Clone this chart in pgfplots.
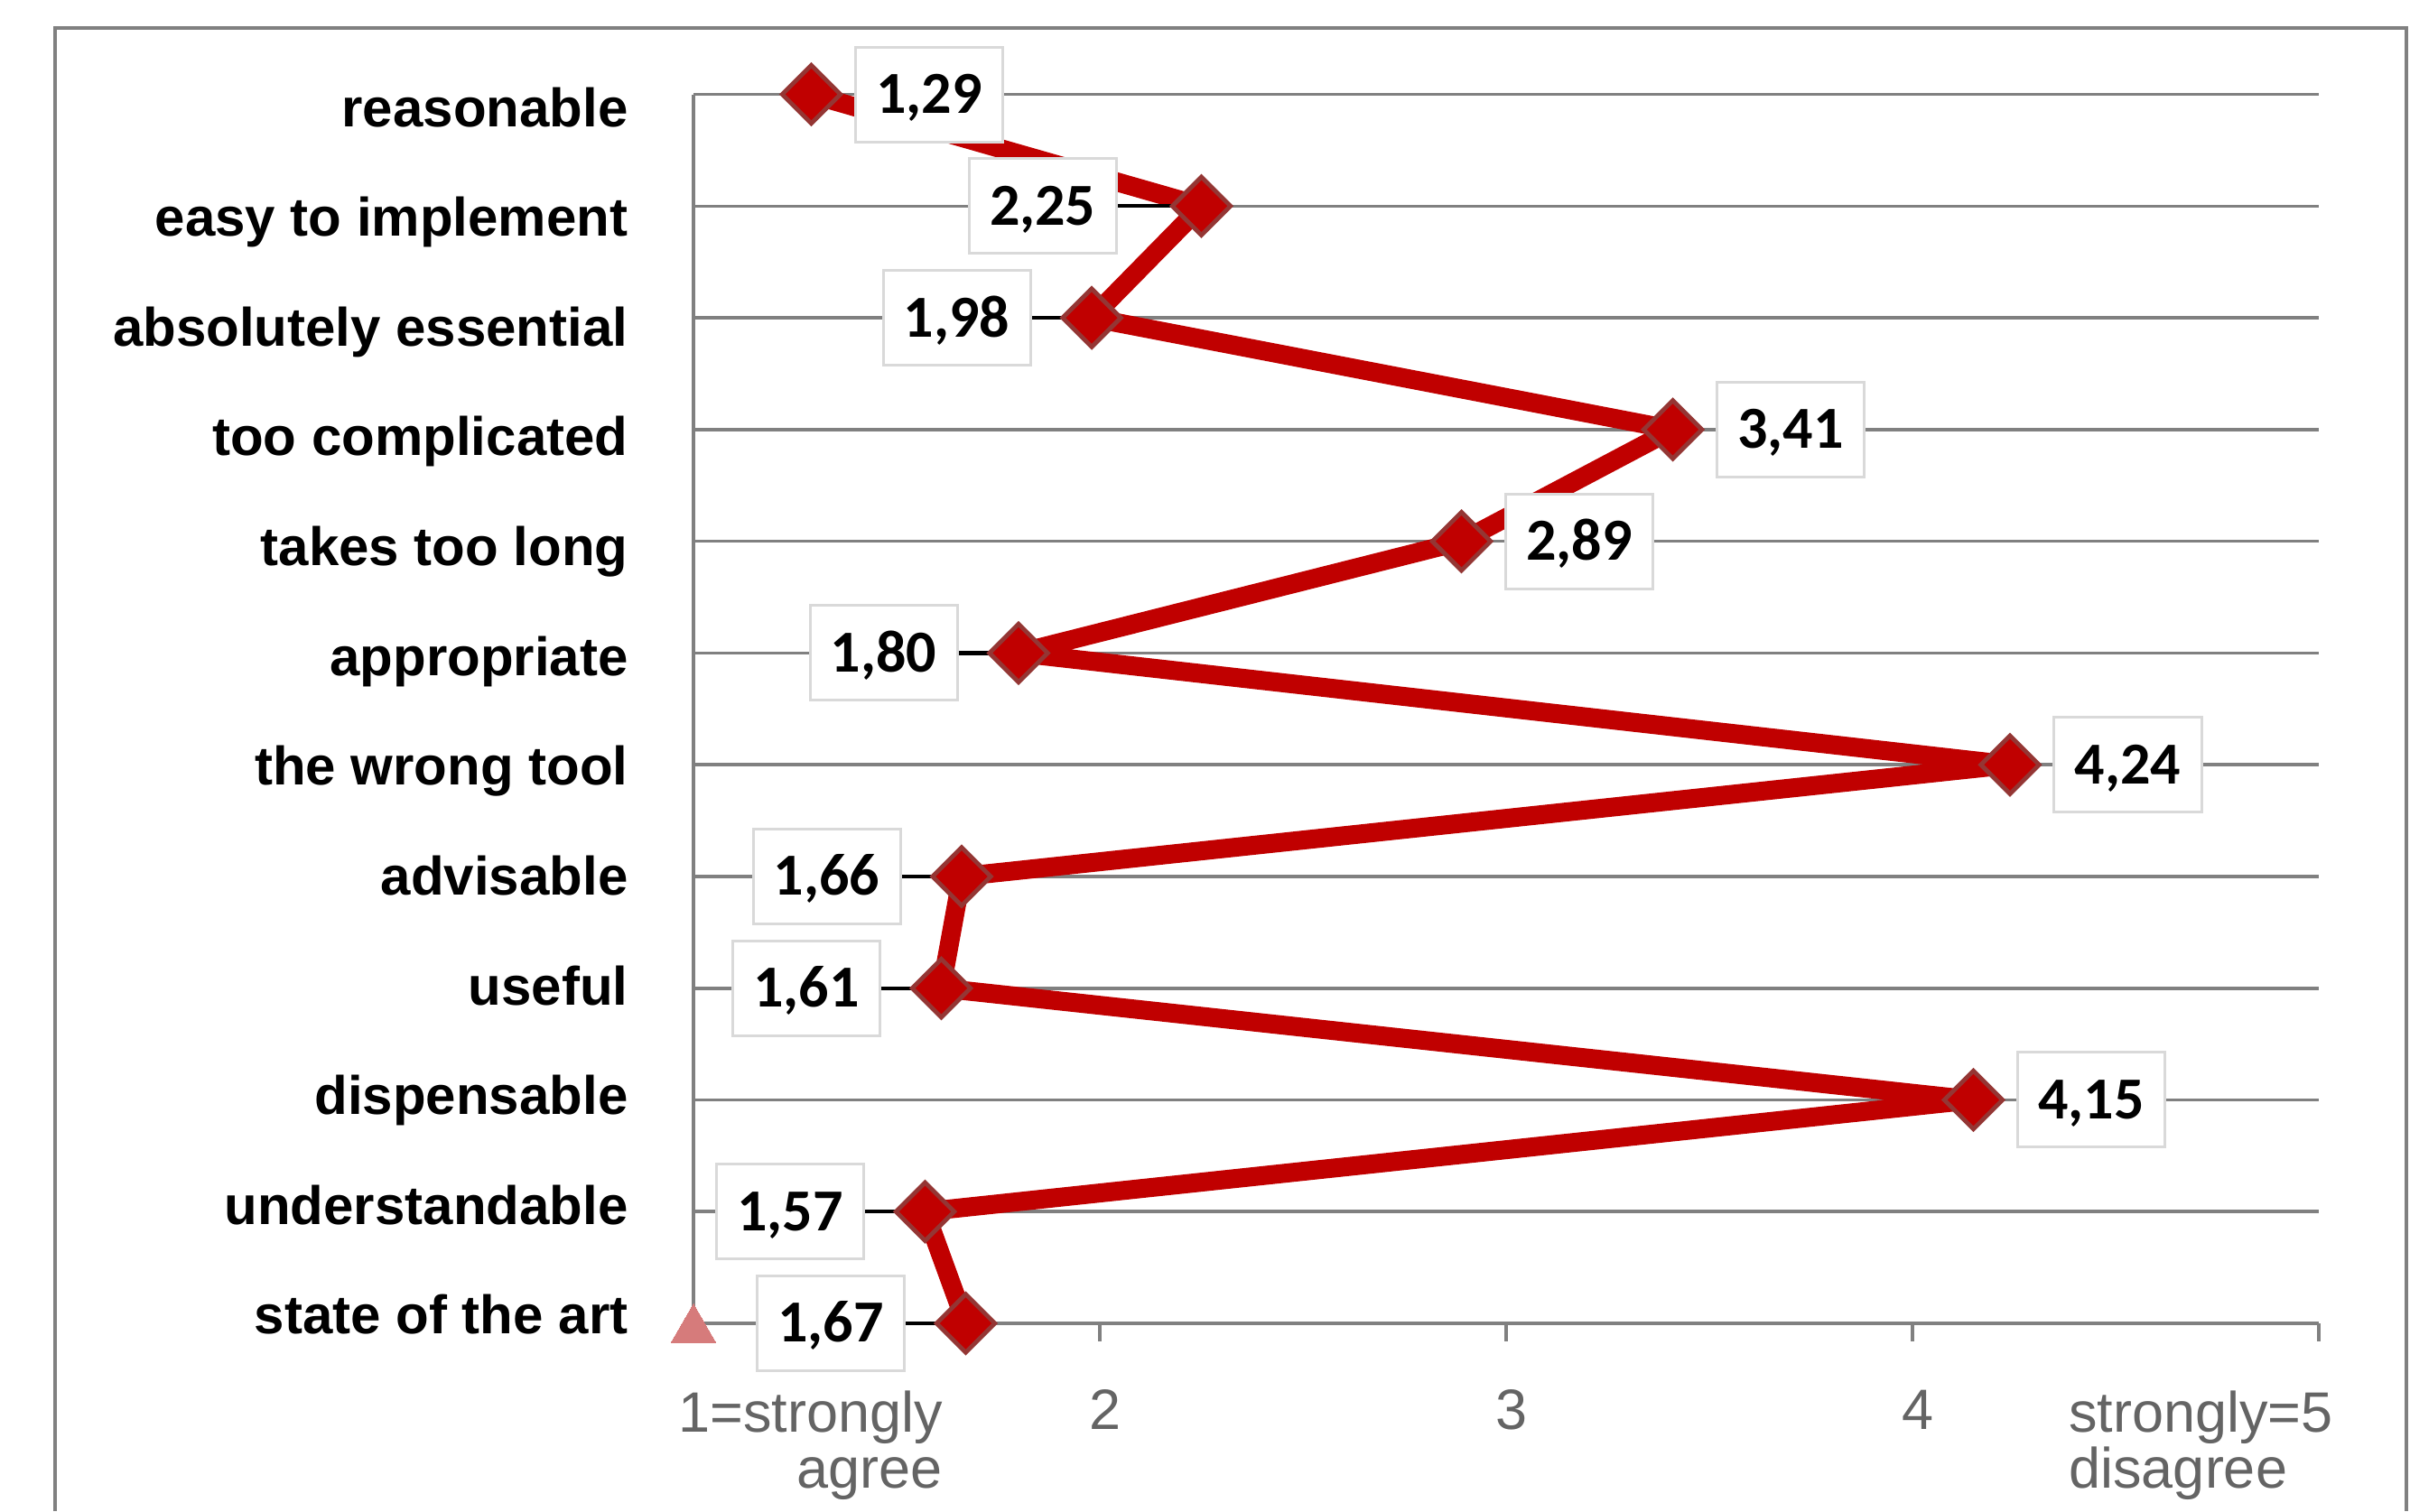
\documentclass[border=0pt]{standalone}
\usepackage{pgfplots}
\pgfplotsset{compat=1.18}
\usepackage{pgfplotstable}
\usepackage{fontspec}
\setmainfont{Liberation Sans}
\newfontfamily\calibri{Carlito}

\definecolor{linered}{RGB}{192,0,0}
\definecolor{markedge}{RGB}{148,54,52}
\definecolor{gridgray}{RGB}{128,128,128}
\definecolor{ticktext}{RGB}{100,100,100}
\definecolor{boxgray}{RGB}{217,217,217}
\definecolor{trired}{RGB}{214,123,123}

% y: 12 = reasonable ... 1 = state of the art
% lx = label offset (pt), lead = leader length (axis units)
\pgfplotstableread{
x     y   lx      lead
1.29  12  21.75   0
2.25  11  -29.3   0.205
1.98  10  -24.9   0.151
3.41  9   21.75   0
2.89  8   21.75   0
1.80  7   -24.9   0.151
4.24  6   21.75   0
1.66  5   -24.9   0.151
1.61  4   -24.9   0.151
4.15  3   21.75   0
1.57  2   -24.9   0.151
1.67  1   -24.9   0.151
}\ratings

\begin{document}
\begin{tikzpicture}
\useasboundingbox (0,0) rectangle (444.83pt,279pt);
\draw[gridgray, line width=0.6pt] (10.17pt,0) -- (10.17pt,273.83pt) -- (444.17pt,273.83pt) -- (444.17pt,0);
\begin{axis}[
  at={(128pt,34.67pt)}, anchor=south west,
  scale only axis, width=300pt, height=226.9pt,
  clip=false,
  xmin=1, xmax=5, ymin=1, ymax=12,
  axis x line=bottom, axis y line=left,
  axis line style={gridgray, line width=0.6pt, -},
  xtick={1,2,3,4,5}, xticklabels={,2,3,4,},
  ytick={1,...,12},
  yticklabels={state of the art, understandable, dispensable, useful, advisable,
    the wrong tool, appropriate, takes too long, too complicated,
    absolutely essential, easy to implement, reasonable},
  ymajorgrids, grid style={gridgray, line width=0.6pt},
  tick align=outside, major tick length=3.3pt,
  x tick style={gridgray, line width=0.6pt},
  y tick style={draw=none},
  xticklabel style={text=ticktext, font=\fontsize{10.5}{11}\selectfont,
    anchor=base, inner sep=0pt, xshift=1pt, yshift=-16.3pt},
  yticklabel style={font=\bfseries\fontsize{10}{12}\selectfont,
    anchor=base east, inner sep=0pt, xshift=-8.6pt,
    yshift={-(2+0.356*(\tick-1))*1pt}},
]
\addplot[linered, line width=3.5pt, line join=round, mark=none,
  error bars/.cd, x dir=minus, x explicit, error mark=none,
  error bar style={black, line width=0.7pt, line cap=butt}]
  table[x=x, y=y, x error minus=lead] {\ratings};
\addplot[only marks, color=linered, mark=square*, mark size=3.8pt,
  mark options={rotate=45, fill=linered, draw=markedge, line width=0.8pt}]
  table[x=x, y=y] {\ratings};
\addplot[only marks, color=trired, mark=triangle*, mark size=4.8pt,
  mark options={fill=trired, draw=trired, line width=0pt, yshift=-1.2pt}]
  coordinates {(1,1)};
\addplot[draw=none, mark=none, nodes near coords, point meta=x,
  /pgf/number format/fixed, /pgf/number format/fixed zerofill,
  /pgf/number format/precision=2, /pgf/number format/use comma,
  /pgf/number format/assume math mode=true,
  visualization depends on={\thisrow{lx} \as \lx},
  nodes near coords style={anchor=center, xshift=\lx pt, fill=white,
    draw=boxgray, line width=0.5pt, minimum width=27.2pt,
    minimum height=17.5pt, inner sep=0pt, text height=7pt, text depth=0pt,
    text=black, font=\calibri\bfseries\fontsize{11}{12}\selectfont}]
  table[x=x, y=y] {\ratings};
\node[anchor=north east, align=right, inner sep=0pt, text=ticktext,
  font=\fontsize{10.5}{10.4}\selectfont]
  at ([xshift=46.2pt, yshift=-12.2pt]axis cs:1,1) {1=strongly\\agree};
\node[anchor=north west, align=left, inner sep=0pt, text=ticktext,
  font=\fontsize{10.5}{10.4}\selectfont]
  at ([xshift=-46.3pt, yshift=-12.2pt]axis cs:5,1) {strongly=5\\disagree};
\end{axis}
\end{tikzpicture}
\end{document}
